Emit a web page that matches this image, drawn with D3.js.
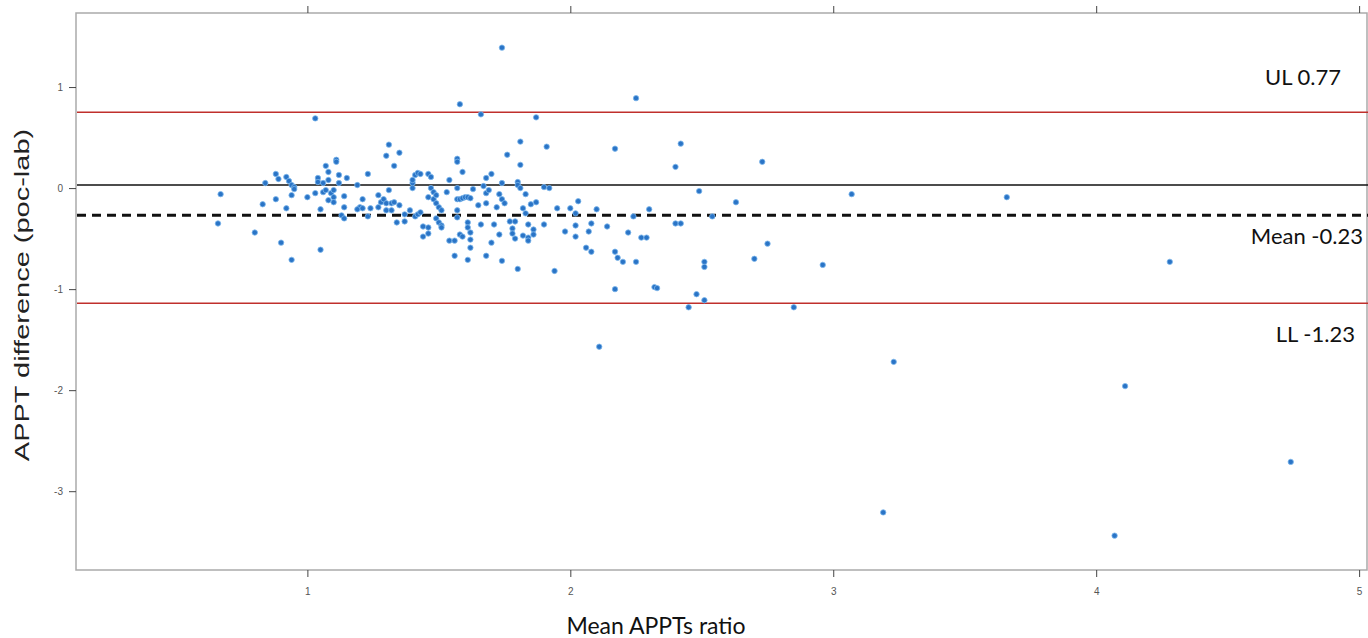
<!DOCTYPE html>
<html>
<head>
<meta charset="utf-8">
<script src="https://cdn.jsdelivr.net/npm/d3@7"></script>
<style>
  body { margin: 0; background: #fff; }
  svg { display: block; }
  .axis text { font-family: "Liberation Sans", Arial, sans-serif; font-size: 10px; fill: #555; }
  .axis line { stroke: #444; }
  .axis path { display: none; }
</style>
</head>
<body>
<svg id="chart"></svg>
<script>
// mean APPTs ratio / APPT difference (poc-lab)
const meanRatio = [
  1.03, 0.67, 0.66, 0.80, 0.83, 0.84, 0.88, 0.89, 0.88, 0.92, 0.90, 0.94, 0.92, 0.93, 0.94, 0.94,
  0.95, 0.95, 1.00, 1.05, 1.05, 1.03, 1.04, 1.04, 1.06, 1.06, 1.07, 1.08, 1.07, 1.08, 1.09, 1.08,
  1.10, 1.10, 1.10, 1.11, 1.11, 1.12, 1.12, 1.14, 1.14, 1.13, 1.14, 1.15,
  1.66, 1.19, 1.23, 1.21, 1.20, 1.19, 1.21, 1.23, 1.24, 1.27, 1.28, 1.27, 1.29, 1.30, 1.30, 1.31,
  1.32, 1.32, 1.33, 1.30, 1.31, 1.33, 1.35, 1.34, 1.35, 1.37, 1.37, 1.39, 1.40, 1.40, 1.40, 1.41,
  1.42, 1.43, 1.41, 1.42, 1.43, 1.44, 1.46, 1.44, 1.46, 1.46, 1.47, 1.47, 1.46, 1.48, 1.48, 1.49,
  1.49, 1.50, 1.51, 1.49, 1.50, 1.51, 1.51, 1.53, 1.54, 1.54, 1.56, 1.56, 1.57, 1.57, 1.57, 1.57,
  1.57, 1.57, 1.58, 1.59, 1.59, 1.60, 1.61, 1.62, 1.61, 1.61, 1.62, 1.62, 1.62, 1.61, 1.58, 1.59,
  1.63, 1.65, 1.66, 1.67, 1.68, 1.68, 1.69, 1.70, 1.68, 1.68, 1.70, 1.71, 1.72, 1.73, 1.74, 1.74,
  1.75, 1.74, 1.76, 1.73, 1.58, 1.87,
  2.25, 1.81, 1.91, 2.17, 2.42, 2.40, 1.81, 1.80, 1.80, 1.81, 1.90, 1.92, 1.83, 1.87, 1.85, 1.82,
  1.83, 1.77, 1.79, 1.84, 1.78, 1.78, 1.79, 1.82, 1.84, 1.84, 1.86, 1.86, 1.90, 1.95, 2.00, 2.02,
  2.03, 2.02, 1.98, 2.02, 2.08, 2.07, 2.10, 2.06, 2.08, 2.14, 2.17, 2.18, 2.20, 2.22, 2.24, 2.25,
  2.27, 2.29, 2.30, 2.40, 2.42, 1.80, 1.94, 2.17, 2.32, 2.33, 2.45,
  2.73, 2.49, 2.63, 3.07, 2.54, 2.75, 2.70, 2.51, 2.51, 2.96, 2.48, 2.51, 2.85,
  2.11, 3.23, 4.11, 4.74, 3.19, 4.07, 4.28, 3.66, 1.74
];
const apptDiff = [
  0.69, -0.06, -0.35, -0.44, -0.16, 0.05, 0.14, 0.09, -0.11, -0.20, -0.54, -0.71, 0.11, 0.07, -0.07, 0.03,
  0.01, -0.01, -0.09, -0.21, -0.61, -0.05, 0.10, 0.06, -0.04, 0.05, 0.22, 0.16, -0.02, 0.08, -0.05, -0.12,
  -0.09, -0.14, -0.02, 0.28, 0.26, 0.13, 0.05, -0.08, -0.19, -0.27, -0.30, 0.10,
  0.73, 0.03, 0.14, -0.11, -0.19, -0.21, -0.20, -0.28, -0.20, -0.07, -0.14, -0.19, -0.11, -0.15, -0.22, -0.02,
  -0.15, -0.22, -0.14, 0.32, 0.43, 0.22, 0.35, -0.34, -0.17, -0.26, -0.33, -0.22, 0.00, 0.05, 0.08, 0.13,
  0.15, 0.14, -0.28, -0.26, -0.24, -0.38, -0.39, -0.48, -0.45, 0.14, 0.11, 0.00, -0.09, -0.04, -0.11, -0.07,
  -0.15, -0.19, -0.22, -0.30, -0.34, -0.37, -0.39, -0.04, 0.08, -0.52, -0.52, -0.67, 0.29, 0.26, 0.00, -0.11,
  -0.22, -0.29, -0.11, 0.16, -0.10, -0.09, -0.09, -0.10, -0.34, -0.39, -0.44, -0.51, -0.59, -0.71, -0.46, -0.48,
  -0.01, -0.17, -0.36, 0.02, 0.10, -0.05, -0.02, 0.14, -0.15, -0.67, -0.54, -0.36, -0.19, -0.06, 0.05, -0.11,
  -0.15, -0.72, 0.33, -0.46, 0.83, 0.70,
  0.89, 0.46, 0.41, 0.39, 0.44, 0.21, 0.23, 0.06, 0.03, 0.00, 0.01, 0.00, -0.06, -0.14, -0.16, -0.20,
  -0.25, -0.33, -0.33, -0.36, -0.40, -0.45, -0.50, -0.47, -0.49, -0.52, -0.41, -0.46, -0.36, -0.20, -0.20, -0.25,
  -0.13, -0.37, -0.43, -0.48, -0.35, -0.43, -0.21, -0.59, -0.63, -0.38, -0.63, -0.69, -0.73, -0.44, -0.28, -0.73,
  -0.49, -0.49, -0.21, -0.35, -0.35, -0.80, -0.82, -1.00, -0.98, -0.99, -1.18,
  0.26, -0.03, -0.14, -0.06, -0.28, -0.55, -0.70, -0.73, -0.78, -0.76, -1.05, -1.11, -1.18,
  -1.57, -1.72, -1.96, -2.71, -3.21, -3.44, -0.73, -0.09, 1.39
];

// reference lines: upper limit, zero line, mean, lower limit (as drawn)
const lineNames = ['UL', 'zero', 'mean', 'LL'];
const lineValues = [0.75, 0.03, -0.27, -1.14];
const lineLabels = ['UL 0.77', '', 'Mean -0.23', 'LL -1.23'];

const xTicks = [1, 2, 3, 4, 5];
const yTicks = [-3, -2, -1, 0, 1];

const width = 1368, height = 638;
const plot = {left: 76, top: 13, right: 1367, bottom: 570};

const svg = d3.select('#chart')
    .attr('width', width)
    .attr('height', height);

const xScale = d3.scaleLinear()
    .domain([0.12, 5.03])
    .range([plot.left, plot.right]);

const yScale = d3.scaleLinear()
    .domain([-3.78, 1.733])
    .range([plot.bottom, plot.top]);

const points = meanRatio.map((x, i) => ({x: x, y: apptDiff[i]}));

// frame
svg.append('rect')
    .attr('x', plot.left)
    .attr('y', plot.top)
    .attr('width', plot.right - plot.left)
    .attr('height', plot.bottom - plot.top)
    .attr('fill', 'none')
    .attr('stroke', '#aaa')
    .attr('stroke-width', 1.5);

// axes
const fmt = d => String(d);
const xAxis = d3.axisBottom(xScale).tickValues(xTicks).tickSize(7).tickPadding(11).tickFormat(fmt).tickSizeOuter(0);
const xAxisTop = d3.axisTop(xScale).tickValues(xTicks).tickSize(7).tickFormat('').tickSizeOuter(0);
const yAxis = d3.axisLeft(yScale).tickValues(yTicks).tickSize(7).tickPadding(6).tickFormat(fmt).tickSizeOuter(0);

svg.append('g').attr('class', 'axis x-axis')
    .attr('transform', `translate(0,${plot.bottom})`)
    .call(xAxis);
svg.append('g').attr('class', 'axis x-axis-top')
    .attr('transform', `translate(0,${plot.top})`)
    .call(xAxisTop);
svg.append('g').attr('class', 'axis y-axis')
    .attr('transform', `translate(${plot.left},0)`)
    .call(yAxis);

// reference lines
const lineStyle = {
  UL: {stroke: '#c0302c', width: 1.5, dash: null},
  zero: {stroke: '#111', width: 1.5, dash: null},
  mean: {stroke: '#111', width: 3, dash: '9,6'},
  LL: {stroke: '#c0302c', width: 1.5, dash: null}
};

lineNames.forEach((name, i) => {
  const s = lineStyle[name];
  svg.append('line')
      .attr('x1', plot.left + 1)
      .attr('x2', width)
      .attr('y1', yScale(lineValues[i]))
      .attr('y2', yScale(lineValues[i]))
      .attr('stroke', s.stroke)
      .attr('stroke-width', s.width)
      .attr('stroke-dasharray', s.dash);
});

// points
svg.append('g')
  .selectAll('circle')
  .data(points)
  .join('circle')
    .attr('cx', d => xScale(d.x))
    .attr('cy', d => yScale(d.y))
    .attr('r', 2.7)
    .attr('fill', '#2a74c6')
    .attr('stroke', '#7db8ec')
    .attr('stroke-width', 0.8);

// line annotations
const labelPos = {UL: [1341, 85], mean: [1363, 244], LL: [1355, 342]};
lineNames.forEach((name, i) => {
  if (!lineLabels[i]) return;
  svg.append('text')
      .attr('x', labelPos[name][0])
      .attr('y', labelPos[name][1])
      .attr('text-anchor', 'end')
      .style('font-family', 'Lato, sans-serif')
      .style('font-size', '22px')
      .style('fill', '#111')
      .text(lineLabels[i]);
});

// axis titles
svg.append('text')
    .attr('x', 656)
    .attr('y', 634)
    .attr('text-anchor', 'middle')
    .style('font-family', 'Lato, sans-serif')
    .style('font-size', '23px')
    .style('fill', '#111')
    .text('Mean APPTs ratio');

svg.append('text')
    .attr('transform', 'translate(29,295) rotate(-90) scale(1.45,1)')
    .attr('text-anchor', 'middle')
    .style('font-family', '"Liberation Sans", Arial, sans-serif')
    .style('font-size', '20px')
    .style('fill', '#222')
    .text('APPT difference (poc-lab)');
</script>
</body>
</html>
